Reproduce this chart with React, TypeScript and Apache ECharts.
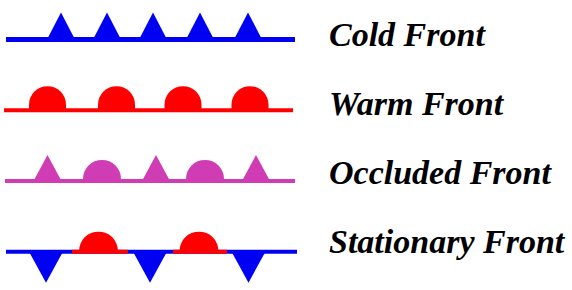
import React, { useEffect, useRef } from "react";
import * as echarts from "echarts";

const frontNames = ["Cold Front", "Warm Front", "Occluded Front", "Stationary Front"];

// baseline extents [start, frontIndex, end]
const coldLine = [[6, 0, 295]];
const warmLine = [[4, 1, 293]];
const occludedLine = [[5, 2, 295]];
const stationaryColdLine = [[6, 3, 297]];
const stationaryWarmSegments = [[72, 3, 128], [173, 3, 227]];

// marker positions along each front [x, frontIndex]
const coldTriangles = [[61, 0], [107, 0], [153, 0], [200, 0], [248, 0]];
const warmDomes = [[47.5, 1], [116.5, 1], [183, 1], [250, 1]];
const occludedTriangles = [[47.5, 2], [156, 2], [256, 2]];
const occludedDomes = [[102, 2], [205, 2]];
const stationaryTriangles = [[46, 3], [150, 3], [248.5, 3]];
const stationaryDomes = [[98.5, 3], [199, 3]];

const BLUE = "#0000f2";
const RED = "#ff0000";
const MAGENTA = "#d03cb4";

function lineSeries(data: number[][], color: string, thick: number) {
  return {
    type: "custom",
    xAxisIndex: 0,
    yAxisIndex: 0,
    z: 2,
    itemStyle: { color },
    data,
    renderItem: (_p: any, api: any) => {
      const a = api.coord([api.value(0), api.value(1)]);
      const b = api.coord([api.value(2), api.value(1)]);
      return {
        type: "rect",
        shape: { x: a[0], y: a[1] - thick / 2, width: b[0] - a[0], height: thick },
        style: { fill: api.visual("color") },
      };
    },
  };
}

function triSeries(data: number[][], color: string, w: number, h: number) {
  return {
    type: "custom",
    xAxisIndex: 0,
    yAxisIndex: 0,
    z: 3,
    itemStyle: { color },
    data,
    renderItem: (_p: any, api: any) => {
      const c = api.coord([api.value(0), api.value(1)]);
      return {
        type: "polygon",
        shape: {
          points: [
            [c[0] - w / 2, c[1]],
            [c[0], c[1] - h],
            [c[0] + w / 2, c[1]],
          ],
        },
        style: { fill: api.visual("color") },
      };
    },
  };
}

function domeSeries(data: number[][], color: string, r: number, h: number) {
  return {
    type: "custom",
    xAxisIndex: 0,
    yAxisIndex: 0,
    z: 3,
    itemStyle: { color },
    data,
    renderItem: (_p: any, api: any) => {
      const c = api.coord([api.value(0), api.value(1)]);
      const x = c[0];
      const y = c[1];
      const yc = y - (h - r);
      const d = `M${x - r},${y + 1} L${x - r},${yc} A${r},${r} 0 0 1 ${x + r},${yc} L${x + r},${y + 1} Z`;
      return {
        type: "path",
        shape: { pathData: d, x: x - r, y: y - h, width: 2 * r, height: h + 1 },
        style: { fill: api.visual("color") },
      };
    },
  };
}

export default function App() {
  const ref = useRef<HTMLDivElement>(null);
  useEffect(() => {
    if (!ref.current) return;
    const chart = echarts.init(ref.current, undefined, { renderer: "svg" });
    chart.setOption({
      animation: false,
      backgroundColor: "#ffffff",
      grid: [
        { left: 0, width: 300, top: 4, height: 283 },
        { left: 299, width: 1, top: -4.5, height: 280 },
      ],
      xAxis: [
        { type: "value", gridIndex: 0, min: 0, max: 300, show: false },
        { type: "value", gridIndex: 1, min: 0, max: 1, show: false },
      ],
      yAxis: [
        { type: "category", gridIndex: 0, data: frontNames, inverse: true, show: false },
        {
          type: "category",
          gridIndex: 1,
          data: frontNames,
          inverse: true,
          position: "right",
          axisLine: { show: false },
          axisTick: { show: false },
          splitLine: { show: false },
          axisLabel: {
            interval: 0,
            margin: 29,
            align: "left",
            color: "#000000",
            fontFamily: "Liberation Serif",
            fontWeight: "bold",
            fontStyle: "italic",
            fontSize: 34,
          },
        },
      ],
      series: [
        lineSeries(coldLine, BLUE, 5),
        lineSeries(warmLine, RED, 4),
        lineSeries(occludedLine, MAGENTA, 4),
        lineSeries(stationaryColdLine, BLUE, 4),
        lineSeries(stationaryWarmSegments, RED, 4),
        triSeries(coldTriangles, BLUE, 28, 27),
        domeSeries(warmDomes, RED, 18.5, 24),
        triSeries(occludedTriangles, MAGENTA, 28, 26),
        domeSeries(occludedDomes, MAGENTA, 19, 21),
        triSeries(stationaryTriangles, BLUE, 34, -31),
        domeSeries(stationaryDomes, RED, 19.5, 20),
      ],
    });
    return () => chart.dispose();
  }, []);
  return (
    <div
      ref={ref}
      style={{ position: "fixed", left: 0, top: 0, width: 572, height: 290, background: "#fff" }}
    />
  );
}
